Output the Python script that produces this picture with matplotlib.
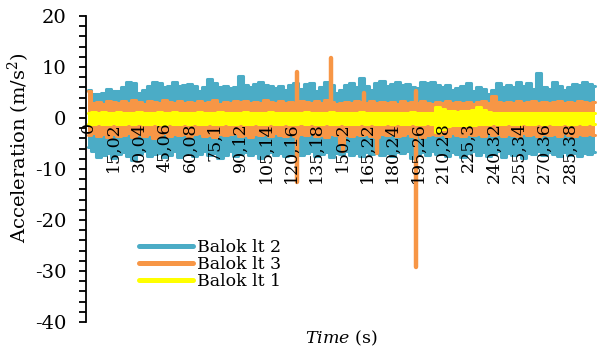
import matplotlib
matplotlib.use("Agg")
import matplotlib.pyplot as plt
from matplotlib.lines import Line2D
from matplotlib.ticker import MultipleLocator
import numpy as np

plt.rcParams["font.family"] = ["DejaVu Serif"]
plt.rcParams["mathtext.fontset"] = "custom"
plt.rcParams["mathtext.rm"] = "DejaVu Serif"
plt.rcParams["mathtext.it"] = "DejaVu Serif:italic"
plt.rcParams["axes.unicode_minus"] = False

# envelope of each record, read every 3 s (0 ... 300 s)
TIME = np.arange(0, 301, 3)

blok2_hi = [5.5, 4.8, 4.8, 5.0, 5.6, 5.3, 5.2, 6.0, 7.1, 6.8,
            5.0, 5.5, 6.2, 7.0, 6.8, 6.0, 6.2, 7.0, 6.3, 6.5,
            6.6, 6.2, 5.2, 6.0, 7.6, 6.8, 6.0, 6.2, 5.8, 6.0,
            8.3, 6.4, 6.0, 6.6, 7.0, 6.5, 6.2, 5.8, 6.3, 5.5,
            6.5, 6.8, 5.6, 6.6, 6.8, 5.2, 6.0, 7.0, 6.5, 5.0,
            5.4, 6.4, 6.8, 6.0, 7.9, 6.2, 5.4, 6.8, 7.3, 6.2,
            6.6, 7.0, 6.4, 6.6, 6.0, 5.8, 7.0, 6.8, 7.0, 6.5,
            6.0, 6.4, 5.4, 5.8, 6.2, 6.8, 5.2, 6.0, 5.6, 4.8,
            5.5, 6.8, 6.0, 6.4, 6.0, 7.0, 6.2, 6.8, 5.6, 8.9,
            6.0, 5.6, 7.0, 6.2, 5.4, 6.0, 6.6, 6.4, 7.0, 6.6,
            6.2]
blok2_lo = [-5.6, -6.4, -7.6, -7.2, -6.8, -7.8, -7.0, -6.6, -7.4, -8.3,
            -7.0, -6.5, -7.5, -7.0, -6.8, -7.6, -7.2, -6.5, -7.7, -7.0,
            -6.6, -7.5, -7.1, -6.4, -7.3, -6.9, -7.8, -7.2, -6.5, -7.4,
            -7.0, -6.6, -7.2, -6.8, -7.9, -7.1, -6.7, -7.3, -6.9, -7.5,
            -7.2, -6.6, -7.3, -6.8, -6.4, -7.4, -7.0, -6.7, -7.6, -6.8,
            -7.1, -6.5, -7.3, -6.9, -7.4, -6.6, -7.0, -6.3, -7.2, -6.8,
            -7.4, -6.6, -6.9, -6.4, -7.8, -7.0, -6.6, -7.3, -6.5, -7.0,
            -6.8, -7.5, -6.6, -7.0, -7.7, -6.9, -6.4, -7.2, -6.7, -7.4,
            -7.0, -6.5, -7.6, -6.8, -7.2, -6.6, -7.8, -6.9, -7.1, -6.5,
            -7.3, -6.7, -7.0, -7.5, -6.6, -7.2, -6.9, -7.4, -6.8, -7.0,
            -6.6]

blok3_hi = [5.3, 3.0, 3.2, 2.8, 3.4, 3.1, 2.9, 3.3, 3.0, 3.5,
            3.1, 2.8, 3.4, 3.2, 3.0, 3.6, 3.1, 2.9, 3.3, 3.0,
            3.2, 2.9, 3.4, 3.0, 3.1, 3.5, 2.8, 3.2, 3.0, 3.3,
            3.1, 3.4, 2.9, 3.2, 3.0, 3.6, 3.1, 2.9, 3.3, 3.0,
            3.2, 3.0, 3.4, 3.1, 2.9, 3.3, 3.0, 3.5, 3.1, 2.8,
            3.0, 3.2, 2.9, 3.4, 3.1, 3.0, 3.3, 2.9, 3.2, 3.0,
            3.1, 2.8, 3.3, 3.0, 3.2, 2.9, 3.4, 3.0, 2.8, 3.2,
            3.0, 3.3, 2.9, 3.1, 3.0, 3.2, 2.8, 3.1, 3.3, 3.0,
            4.3, 3.1, 2.9, 3.2, 3.0, 3.3, 2.9, 3.1, 3.4, 3.0,
            3.2, 2.9, 3.1, 3.4, 3.0, 3.2, 2.9, 3.3, 3.1, 3.0,
            3.1]
blok3_lo = [-3.4, -3.0, -3.6, -3.2, -3.8, -3.1, -3.5, -3.3, -3.0, -3.7,
            -3.2, -3.5, -3.1, -3.9, -3.3, -3.0, -3.6, -3.2, -3.4, -3.1,
            -3.6, -3.2, -3.0, -3.5, -3.3, -3.8, -3.1, -3.4, -3.2, -3.0,
            -3.5, -3.3, -3.7, -3.1, -3.4, -3.2, -3.6, -3.0, -3.3, -3.5,
            -3.2, -3.6, -3.1, -3.4, -3.0, -3.5, -3.3, -3.7, -3.2, -3.4,
            -5.0, -3.3, -3.6, -3.2, -3.4, -3.1, -3.5, -3.8, -3.2, -3.4,
            -3.1, -3.6, -3.3, -3.0, -3.5, -3.2, -3.7, -3.3, -3.1, -3.4,
            -3.2, -3.5, -3.0, -3.3, -3.6, -3.1, -3.4, -3.2, -3.5, -3.0,
            -3.4, -3.2, -3.6, -3.1, -3.3, -3.5, -3.0, -3.4, -3.2, -3.6,
            -3.1, -3.4, -3.2, -3.5, -3.0, -3.3, -3.6, -3.2, -3.4, -3.1,
            -3.3]
# isolated peaks of Balok lt 3
blok3_spike_t = [123.5, 123.5, 143.6, 151.0, 163.4, 171.0, 194.0, 194.0]
blok3_spike_v = [9.0, -12.5, 11.8, -6.5, 5.0, -6.9, 5.2, -29.3]

blok1_hi = [1.0, 1.1, 0.9, 1.2, 1.0, 0.9, 1.1, 1.0, 0.9, 1.0,
            1.1, 0.9, 1.0, 1.0, 1.1, 0.9, 1.0, 1.1, 0.9, 1.0,
            1.0, 0.9, 1.1, 1.0, 0.9, 1.0, 1.1, 1.0, 0.9, 1.0,
            1.0, 1.1, 0.9, 1.0, 1.0, 0.9, 1.1, 1.0, 1.0, 0.9,
            1.0, 1.0, 0.9, 1.1, 1.0, 0.9, 1.0, 1.0, 1.1, 0.9,
            1.0, 0.9, 1.0, 1.0, 1.1, 0.9, 1.0, 1.0, 0.9, 1.0,
            1.0, 1.0, 0.9, 1.0, 1.1, 1.0, 0.9, 1.0, 1.0, 2.1,
            1.8, 1.4, 1.3, 1.2, 1.4, 1.3, 1.5, 2.2, 1.6, 1.1,
            1.0, 1.0, 0.9, 1.0, 1.0, 0.9, 1.0, 1.0, 0.9, 1.0,
            1.0, 0.9, 1.0, 1.0, 0.9, 1.0, 1.0, 0.9, 1.0, 1.0,
            1.0]
blok1_lo = [-1.1, -1.2, -1.0, -1.1, -1.2, -1.0, -1.1, -1.1, -1.0, -1.2,
            -1.0, -1.1, -1.2, -1.0, -1.1, -1.1, -1.0, -1.2, -1.1, -1.0,
            -1.1, -1.0, -1.1, -1.2, -1.0, -1.1, -1.1, -1.0, -1.2, -1.1,
            -1.0, -1.1, -1.1, -1.0, -1.2, -1.1, -1.0, -1.1, -1.1, -1.0,
            -1.1, -1.2, -1.0, -1.1, -1.0, -1.1, -1.2, -1.0, -1.1, -1.1,
            -1.0, -1.1, -1.1, -1.2, -1.0, -1.1, -1.0, -1.1, -1.2, -1.0,
            -1.1, -1.0, -1.1, -1.1, -1.0, -1.2, -1.1, -1.0, -1.1, -2.8,
            -2.2, -1.5, -1.4, -1.3, -1.4, -1.3, -1.3, -1.2, -1.2, -1.1,
            -1.0, -1.1, -1.1, -1.0, -1.2, -1.1, -1.0, -1.1, -1.1, -1.0,
            -1.1, -1.0, -1.1, -1.2, -1.0, -1.1, -1.1, -1.0, -1.1, -1.0,
            -1.1]

tick_pos = [0, 15.02, 30.04, 45.06, 60.08, 75.1, 90.12, 105.14, 120.16, 135.18,
            150.2, 165.22, 180.24, 195.26, 210.28, 225.3, 240.32, 255.34, 270.36, 285.38]
tick_labels = ["0", "15,02", "30,04", "45,06", "60,08", "75,1", "90,12", "105,14",
               "120,16", "135,18", "150,2", "165,22", "180,24", "195,26", "210,28",
               "225,3", "240,32", "255,34", "270,36", "285,38"]

BLUE = "#4BACC6"
ORANGE = "#F79646"
YELLOW = "#FFFF00"


def draw_band(ax, hi, lo, color, z):
    ax.fill_between(TIME, lo, hi, step="mid", color=color, lw=0, zorder=z)
    for env in (hi, lo):
        ax.plot(TIME, env, drawstyle="steps-mid", color=color, lw=2.2,
                solid_joinstyle="round", solid_capstyle="round", zorder=z)


fig = plt.figure(figsize=(5.97, 3.54), dpi=100)
ax = fig.add_axes([86 / 597, 32 / 354, 511 / 597, 306 / 354])

draw_band(ax, blok2_hi, blok2_lo, BLUE, 1.0)
draw_band(ax, blok3_hi, blok3_lo, ORANGE, 1.2)
ax.vlines(blok3_spike_t, 0, blok3_spike_v, color=ORANGE, lw=3.2,
          capstyle="round", zorder=1.3)
draw_band(ax, blok1_hi, blok1_lo, YELLOW, 1.4)

ax.set_xlim(-1.4, 301.4)
ax.set_ylim(-40, 20)

for side in ("top", "right"):
    ax.spines[side].set_visible(False)
ax.spines["bottom"].set_position(("data", 0))
ax.spines["bottom"].set_visible(False)
ax.spines["left"].set_linewidth(1.3)

ax.set_xticks(tick_pos)
ax.set_xticklabels(tick_labels, rotation=90, fontsize=12.5)
ax.tick_params(axis="x", length=0, pad=3)
ax.xaxis.set_zorder(3)

ax.yaxis.set_major_locator(MultipleLocator(10))
ax.yaxis.set_minor_locator(MultipleLocator(2))
ax.tick_params(axis="y", which="both", direction="out", length=5, width=1.3,
               labelsize=14, pad=9)

ax.set_ylabel("Acceleration (m/s$^2$)", fontsize=14)
ax.yaxis.set_label_coords(-0.105, 0.569)
ax.set_xlabel("$\\mathit{Time}$ (s)", fontsize=12.5)
ax.xaxis.set_label_coords(0.5, -0.022)

handles = [Line2D([], [], color=BLUE, lw=3.6, solid_capstyle="round"),
           Line2D([], [], color=ORANGE, lw=3.6, solid_capstyle="round"),
           Line2D([], [], color=YELLOW, lw=3.6, solid_capstyle="round")]
fig.legend(handles, ["Balok lt 2", "Balok lt 3", "Balok lt 1"],
           loc="upper left", bbox_to_anchor=(139 / 597, 1 - 239 / 354),
           frameon=False, fontsize=12.5, handlelength=3.1, handletextpad=0.25,
           labelspacing=0.0, borderpad=0, borderaxespad=0)

fig.savefig("out.png", dpi=100)
